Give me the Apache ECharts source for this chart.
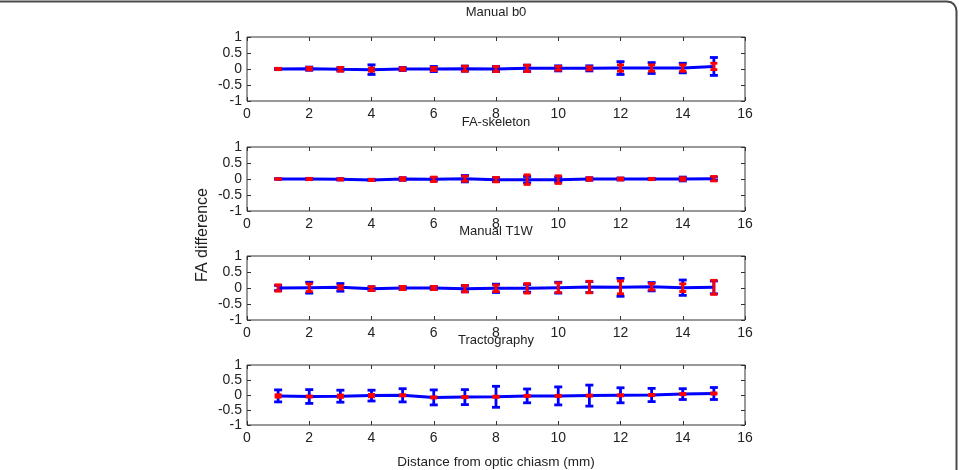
<!DOCTYPE html>
<html><head><meta charset="utf-8">
<script src="https://cdn.jsdelivr.net/npm/echarts@6/dist/echarts.min.js"></script>
<style>html,body{margin:0;padding:0;background:#fff}#c{width:959px;height:470px}</style>
</head><body><div id="c"></div>
<script>
const distances = [1,2,3,4,5,6,7,8,9,10,11,12,13,14,15];
const panelTitles = ['Manual b0','FA-skeleton','Manual T1W','Tractography'];
const xTicks = [0,2,4,6,8,10,12,14,16];
const yTicks = [-1,-0.5,0,0.5,1];

// mean FA difference per panel
const meanB0   = [0,0.01,-0.01,-0.02,0,0,0.01,0,0.02,0.02,0.02,0.03,0.03,0.03,0.08];
const meanSkel = [0,0,-0.01,-0.03,0,-0.01,0.01,-0.02,-0.02,-0.02,0,0,0,0,0.01];
const meanT1W  = [0,0.01,0.02,-0.02,0,0,-0.02,-0.01,-0.01,0.01,0.03,0.02,0.04,0.01,0.02];
const meanTrac = [-0.03,-0.05,-0.04,-0.02,-0.01,-0.08,-0.07,-0.06,-0.03,-0.03,-0.02,-0.01,0,0.03,0.05];

// blue error bar half-widths
const blueB0   = [0.02,0.05,0.05,0.15,0.05,0.08,0.08,0.08,0.1,0.08,0.08,0.2,0.17,0.15,0.28];
const blueSkel = [0.01,0.02,0.02,0.02,0.04,0.05,0.1,0.06,0.1,0.08,0.04,0.03,0.02,0.06,0.05];
const blueT1W  = [0.08,0.17,0.12,0.06,0.05,0.05,0.1,0.13,0.12,0.17,0.17,0.28,0.13,0.24,0.2];
const blueTrac = [0.2,0.23,0.2,0.18,0.22,0.25,0.25,0.35,0.23,0.3,0.35,0.25,0.22,0.18,0.2];

// red error bar half-widths
const redB0   = [0.02,0.04,0.06,0.05,0.04,0.05,0.08,0.08,0.1,0.06,0.05,0.1,0.1,0.1,0.1];
const redSkel = [0.01,0.02,0.02,0.02,0.04,0.07,0.08,0.07,0.15,0.12,0.04,0.03,0.02,0.04,0.07];
const redT1W  = [0.1,0.12,0.05,0.06,0.05,0.05,0.1,0.1,0.15,0.15,0.18,0.2,0.1,0.12,0.22];
const redTrac = [0.04,0.02,0.04,0.04,0.02,0.02,0.02,0.02,0.02,0.02,0.02,0.02,0.02,0.02,0.02];

const means = [meanB0, meanSkel, meanT1W, meanTrac];
const blues = [blueB0, blueSkel, blueT1W, blueTrac];
const reds  = [redB0, redSkel, redT1W, redTrac];

const tops = [37,147,256,365];
const gridLeft = 247, gridRight = 214, gridH = 64;
const axisCol = '#333';
const font = 'Liberation Sans, Arial, sans-serif';

const grids = [], xAxes = [], yAxes = [], series = [], graphics = [];

function errRender(color, capW, lw) {
  return function(params, api) {
    const x = api.value(0), lo = api.value(1), hi = api.value(2);
    const p1 = api.coord([x, lo]), p2 = api.coord([x, hi]);
    const st = {stroke: color, lineWidth: lw};
    return {type:'group', children:[
      {type:'line', shape:{x1:p1[0],y1:p1[1],x2:p2[0],y2:p2[1]}, style:st},
      {type:'line', shape:{x1:p1[0]-capW,y1:p1[1],x2:p1[0]+capW,y2:p1[1]}, style:st},
      {type:'line', shape:{x1:p2[0]-capW,y1:p2[1],x2:p2[0]+capW,y2:p2[1]}, style:st}
    ]};
  };
}

for (let i = 0; i < 4; i++) {
  grids.push({left:gridLeft, right:gridRight, top:tops[i], height:gridH, show:true, borderColor:axisCol, borderWidth:1, backgroundColor:'#fff'});
  const xBase = {type:'value', gridIndex:i, min:0, max:16, interval:2,
    axisLine:{show:false, onZero:false}, splitLine:{show:false},
    axisTick:{show:true, inside:true, length:4, lineStyle:{color:axisCol}}};
  xAxes.push(Object.assign({}, xBase, {position:'bottom',
    axisLabel:{show:true, color:'#222', fontSize:14, fontFamily:font, margin:6},
    name: i===3 ? 'Distance from optic chiasm (mm)' : '', nameLocation:'middle', nameGap:30,
    nameTextStyle:{color:'#222', fontSize:13.5, fontFamily:font}}));
  xAxes.push(Object.assign({}, xBase, {position:'top', axisLabel:{show:false}}));
  const yBase = {type:'value', gridIndex:i, min:-1, max:1, interval:0.5,
    axisLine:{show:false, onZero:false}, splitLine:{show:false},
    axisTick:{show:true, inside:true, length:4, lineStyle:{color:axisCol}}};
  yAxes.push(Object.assign({}, yBase, {position:'left',
    axisLabel:{show:true, color:'#222', fontSize:14, fontFamily:font, margin:5, lineHeight:14}}));
  yAxes.push(Object.assign({}, yBase, {position:'right', axisLabel:{show:false}}));

  const xi = i*2, yi = i*2;
  series.push({type:'line', xAxisIndex:xi, yAxisIndex:yi, showSymbol:false, symbol:'none',
    data: distances.map((d,k)=>[d, means[i][k]]), lineStyle:{color:'#0000ff', width:3}, z:2, silent:true, animation:false});
  series.push({type:'custom', xAxisIndex:xi, yAxisIndex:yi, z:3, silent:true, animation:false,
    renderItem: errRender('#0000ff', 4, 2.8),
    data: distances.map((d,k)=>[d, means[i][k]-blues[i][k], means[i][k]+blues[i][k]])});
  series.push({type:'custom', xAxisIndex:xi, yAxisIndex:yi, z:4, silent:true, animation:false,
    renderItem: errRender('#ff0000', 3.5, 2.8),
    data: distances.map((d,k)=>[d, means[i][k]-reds[i][k], means[i][k]+reds[i][k]])});

  graphics.push({type:'text', x: gridLeft + 249, y: tops[i]-31, silent:true,
    style:{text: panelTitles[i], fill:'#222', font:'13px Liberation Sans, Arial, sans-serif', textAlign:'center', textVerticalAlign:'top'}});
}

graphics.push({type:'text', silent:true, x:203, y:235, rotation:Math.PI/2,
  style:{text:'FA difference', fill:'#222', font:'16px Liberation Sans, Arial, sans-serif', textAlign:'center', textVerticalAlign:'middle'}});
graphics.push({type:'polyline', silent:true,
  shape:{points:[[0,1.5],[947,1.5],[951,2.3],[954,4.5],[955.8,7.5],[956.5,11],[956.5,470]]},
  style:{fill:null, stroke:'#4a4a4a', lineWidth:2}});

const chart = echarts.init(document.getElementById('c'), null, {renderer:'canvas'});
chart.setOption({animation:false, grid:grids, xAxis:xAxes, yAxis:yAxes, series:series, graphic:graphics});
</script></body></html>
